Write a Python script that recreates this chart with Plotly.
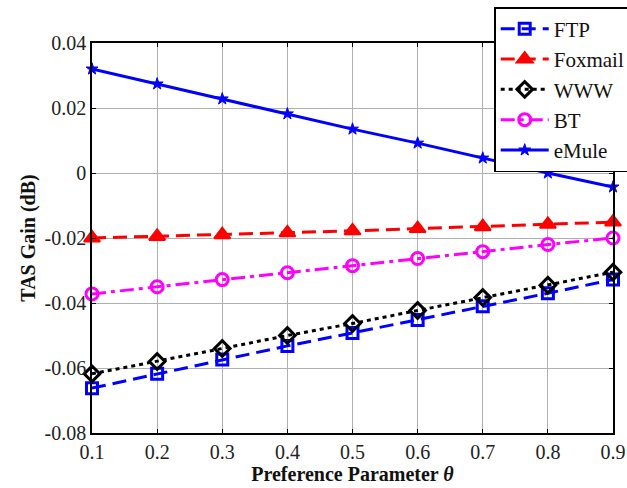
import plotly.graph_objects as go

theta = [0.1, 0.2, 0.3, 0.4, 0.5, 0.6, 0.7, 0.8, 0.9]
ftp = [-0.0662, -0.0618, -0.0574, -0.0532, -0.0492, -0.0452, -0.0410, -0.0370, -0.0328]
foxmail = [-0.0200, -0.0195, -0.0190, -0.0184, -0.0178, -0.0171, -0.0165, -0.0158, -0.0151]
www = [-0.0618, -0.0580, -0.0540, -0.0500, -0.0463, -0.0423, -0.0383, -0.0345, -0.0305]
bt = [-0.0372, -0.0350, -0.0328, -0.0307, -0.0285, -0.0263, -0.0242, -0.0220, -0.0200]
emule = [0.0320, 0.0274, 0.0228, 0.0182, 0.0135, 0.0092, 0.0046, 0.0000, -0.0043]

yticks = [0.04, 0.02, 0, -0.02, -0.04, -0.06, -0.08]
ytick_labels = ["0.04", "0.02", "0", "-0.02", "-0.04", "-0.06", "-0.08"]
xtick_labels = ["0.1", "0.2", "0.3", "0.4", "0.5", "0.6", "0.7", "0.8", "0.9"]

FONT = "Times New Roman"

series = [
    ("FTP", ftp, "#0000ff", "14px,7px", "square-open", 11, 3),
    ("Foxmail", foxmail, "#ff0000", "14px,7px", "triangle-up", 14, 2),
    ("WWW", www, "#000000", "4px,4px", "diamond-open", 12, 3),
    ("BT", bt, "#ff00ff", "14px,5px,4px,5px", "circle-open", 12, 3),
    ("eMule", emule, "#0000ff", "solid", "star", 9, 1),
]

fig = go.Figure()
for name, ys, color, dash, sym, size, mlw in series:
    fig.add_trace(go.Scatter(
        x=theta, y=ys, name=name, mode="lines+markers",
        line=dict(color=color, width=3, dash=dash),
        marker=dict(symbol=sym, size=size, color=color, line=dict(color=color, width=mlw)),
        cliponaxis=False,
    ))

axis_common = dict(
    showline=True, linecolor="black", linewidth=1.5, mirror="ticks",
    showgrid=True, gridcolor="#b0b0b0", gridwidth=1,
    ticks="inside", ticklen=4, tickcolor="black",
    tickfont=dict(family=FONT, size=20, color="#222"),
    zeroline=False,
)

fig.update_xaxes(
    range=[0.1, 0.9], tickvals=theta, ticktext=xtick_labels,
    title=dict(text="<b>Preference Parameter <i>θ</i></b>",
               font=dict(family=FONT, size=20, color="#111"), standoff=2),
    **axis_common,
)
fig.update_yaxes(
    range=[-0.08, 0.04], tickvals=yticks, ticktext=ytick_labels,
    title=dict(text="<b>TAS Gain (dB)</b>",
               font=dict(family=FONT, size=20, color="#111"), standoff=4),
    **axis_common,
)

fig.update_layout(
    width=627, height=488,
    margin=dict(l=92, r=14, t=43, b=55, autoexpand=False),
    paper_bgcolor="white", plot_bgcolor="white",
    showlegend=True,
    legend=dict(
        x=0.772, y=1.092, xanchor="left", yanchor="top",
        bgcolor="white", bordercolor="black", borderwidth=1.5,
        font=dict(family=FONT, size=21, color="#111"),
        tracegroupgap=0, itemwidth=48,
    ),
)

fig.write_html("out.html")
